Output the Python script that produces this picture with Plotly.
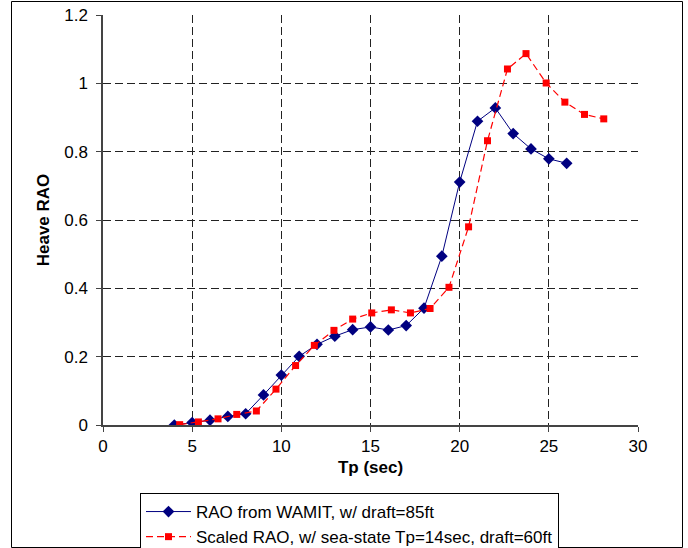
import plotly.graph_objects as go

# Data
tp_wamit = [4, 5, 6, 7, 8, 9, 10, 11, 12, 13, 14, 15, 16, 17, 18, 19, 20, 21, 22, 23, 24, 25, 26]
rao_wamit = [0.0, 0.007, 0.014, 0.025, 0.033, 0.088, 0.146, 0.201, 0.236, 0.260, 0.279, 0.287,
             0.278, 0.291, 0.342, 0.494, 0.711, 0.889, 0.928, 0.853, 0.808, 0.779, 0.766]

tp_scaled = [4.3, 5.35, 6.45, 7.5, 8.6, 9.7, 10.8, 11.85, 12.95, 14.0, 15.07, 16.17, 17.24,
             18.34, 19.4, 20.5, 21.56, 22.68, 23.72, 24.85, 25.9, 27.0, 28.08]
rao_scaled = [0.001, 0.009, 0.018, 0.031, 0.041, 0.105, 0.174, 0.233, 0.277, 0.310, 0.328, 0.337,
              0.328, 0.341, 0.403, 0.58, 0.832, 1.042, 1.087, 1.001, 0.945, 0.909, 0.896]

name_wamit = "RAO from WAMIT, w/ draft=85ft"
name_scaled = "Scaled RAO, w/ sea-state Tp=14sec, draft=60ft"

x_ticks = [0, 5, 10, 15, 20, 25, 30]
y_ticks = [0, 0.2, 0.4, 0.6, 0.8, 1, 1.2]
y_tick_text = ["0", "0.2", "0.4", "0.6", "0.8", "1", "1.2"]

FONT = "Liberation Sans, Arial, sans-serif"

fig = go.Figure()
fig.add_trace(go.Scatter(
    x=tp_wamit, y=rao_wamit, mode="lines+markers", name=name_wamit,
    line=dict(color="#000080", width=1),
    marker=dict(symbol="diamond", size=9, color="#000080"),
))
fig.add_trace(go.Scatter(
    x=tp_scaled, y=rao_scaled, mode="lines+markers", name=name_scaled,
    line=dict(color="#FF0000", width=1.2, dash="7px,4px"),
    marker=dict(symbol="square", size=7, color="#FF0000"),
))

W, H = 688, 548
L, R, T, B = 103, 50, 15, 123
pw = W - L - R
ph = H - T - B

def px2x(px):
    return (px - L) / pw

def px2y(py):
    return (H - B - py) / ph

fig.update_layout(
    width=W, height=H,
    margin=dict(l=L, r=R, t=T, b=B, autoexpand=False),
    paper_bgcolor="white", plot_bgcolor="white",
    font=dict(family=FONT, size=17, color="black"),
    showlegend=True,
    legend=dict(
        x=px2x(140), y=px2y(493), xanchor="left", yanchor="top",
        bordercolor="black", borderwidth=1, bgcolor="white",
        font=dict(family=FONT, size=17, color="black"),
        tracegroupgap=0, itemwidth=45,
    ),
    shapes=[dict(
        type="rect", xref="paper", yref="paper",
        x0=px2x(11.5), x1=px2x(682.5), y0=px2y(547.5), y1=px2y(1.5),
        line=dict(color="black", width=1), fillcolor="rgba(0,0,0,0)", layer="above",
    )],
)

fig.update_xaxes(
    range=[0, 30], tickvals=x_ticks, ticktext=[str(v) for v in x_ticks],
    showgrid=True, gridcolor="#222222", gridwidth=1, griddash="8px,4px",
    showline=True, linecolor="#444444", linewidth=1.5,
    ticks="outside", ticklen=5, tickcolor="#444444",
    zeroline=False,
    title=dict(text="<b>Tp (sec)</b>", font=dict(family=FONT, size=17), standoff=6),
)
fig.update_yaxes(
    range=[0, 1.2], tickvals=y_ticks, ticktext=y_tick_text,
    showgrid=True, gridcolor="#222222", gridwidth=1, griddash="8px,4px",
    showline=True, linecolor="#444444", linewidth=1.5,
    ticks="outside", ticklen=5, tickcolor="#444444", ticklabelstandoff=5,
    zeroline=False,
    title=dict(text="<b>Heave RAO</b>", font=dict(family=FONT, size=17), standoff=10),
)

fig.write_html("out.html")
